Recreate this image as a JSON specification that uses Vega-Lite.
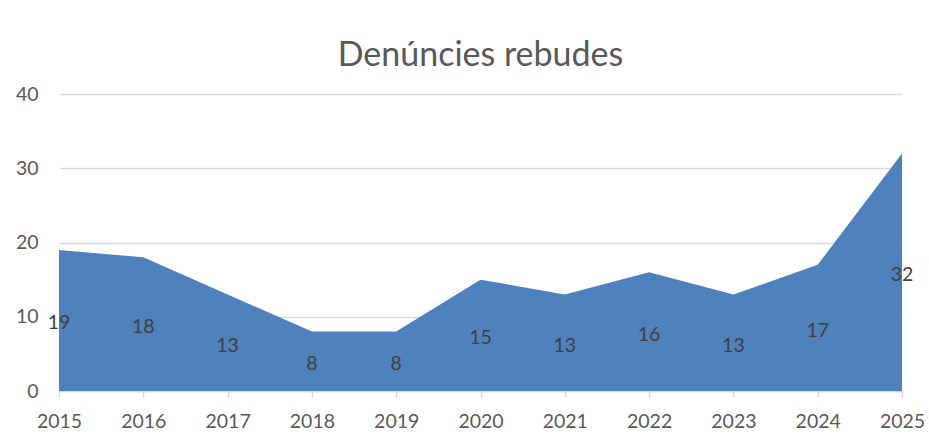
{
  "$schema": "https://vega.github.io/schema/vega-lite/v6.json",
  "width": 843,
  "height": 297,
  "autosize": {"type": "none"},
  "padding": {"left": 59, "top": 94, "right": 27, "bottom": 45},
  "background": "white",
  "title": {
    "text": "Denúncies rebudes",
    "font": "Lato",
    "fontSize": 34,
    "fontWeight": "normal",
    "color": "#595959",
    "anchor": "middle",
    "offset": 11
  },
  "data": {
    "values": [
      {"year": 2015, "value": 19},
      {"year": 2016, "value": 18},
      {"year": 2017, "value": 13},
      {"year": 2018, "value": 8},
      {"year": 2019, "value": 8},
      {"year": 2020, "value": 15},
      {"year": 2021, "value": 13},
      {"year": 2022, "value": 16},
      {"year": 2023, "value": 13},
      {"year": 2024, "value": 17},
      {"year": 2025, "value": 32}
    ]
  },
  "config": {
    "view": {"stroke": null},
    "axis": {"labelFont": "Lato", "labelFontSize": 19.5, "labelColor": "#595959", "titleFont": "Lato"}
  },
  "encoding": {
    "x": {
      "field": "year",
      "type": "quantitative",
      "scale": {"domain": [2015, 2025], "nice": false, "zero": false},
      "axis": {
        "title": null,
        "values": [2015, 2016, 2017, 2018, 2019, 2020, 2021, 2022, 2023, 2024, 2025],
        "format": "d",
        "grid": false,
        "domainColor": "#d9d9d9",
        "domainWidth": 1.5,
        "tickColor": "#d9d9d9",
        "tickSize": 6,
        "tickWidth": 1.5,
        "labelPadding": 15,
        "labelFlush": false
      }
    }
  },
  "layer": [
    {
      "mark": {"type": "area", "color": "#4F81BD", "opacity": 1},
      "encoding": {
        "y": {
          "field": "value",
          "type": "quantitative",
          "scale": {"domain": [0, 40], "nice": false},
          "axis": {
            "title": null,
            "values": [0, 10, 20, 30, 40],
            "grid": true,
            "gridColor": "#d9d9d9",
            "gridWidth": 1.5,
            "domain": false,
            "ticks": false,
            "labelPadding": 21
          }
        }
      }
    },
    {
      "mark": {"type": "text", "font": "Lato", "fontSize": 19.5, "color": "#404040", "align": "center", "baseline": "middle", "dy": 3},
      "encoding": {
        "y": {"datum": 0, "type": "quantitative"},
        "yOffset": {"field": "value", "type": "quantitative", "scale": {"domain": [0, 40], "range": [0, -148.5]}},
        "text": {"field": "value", "type": "quantitative"}
      }
    }
  ]
}
